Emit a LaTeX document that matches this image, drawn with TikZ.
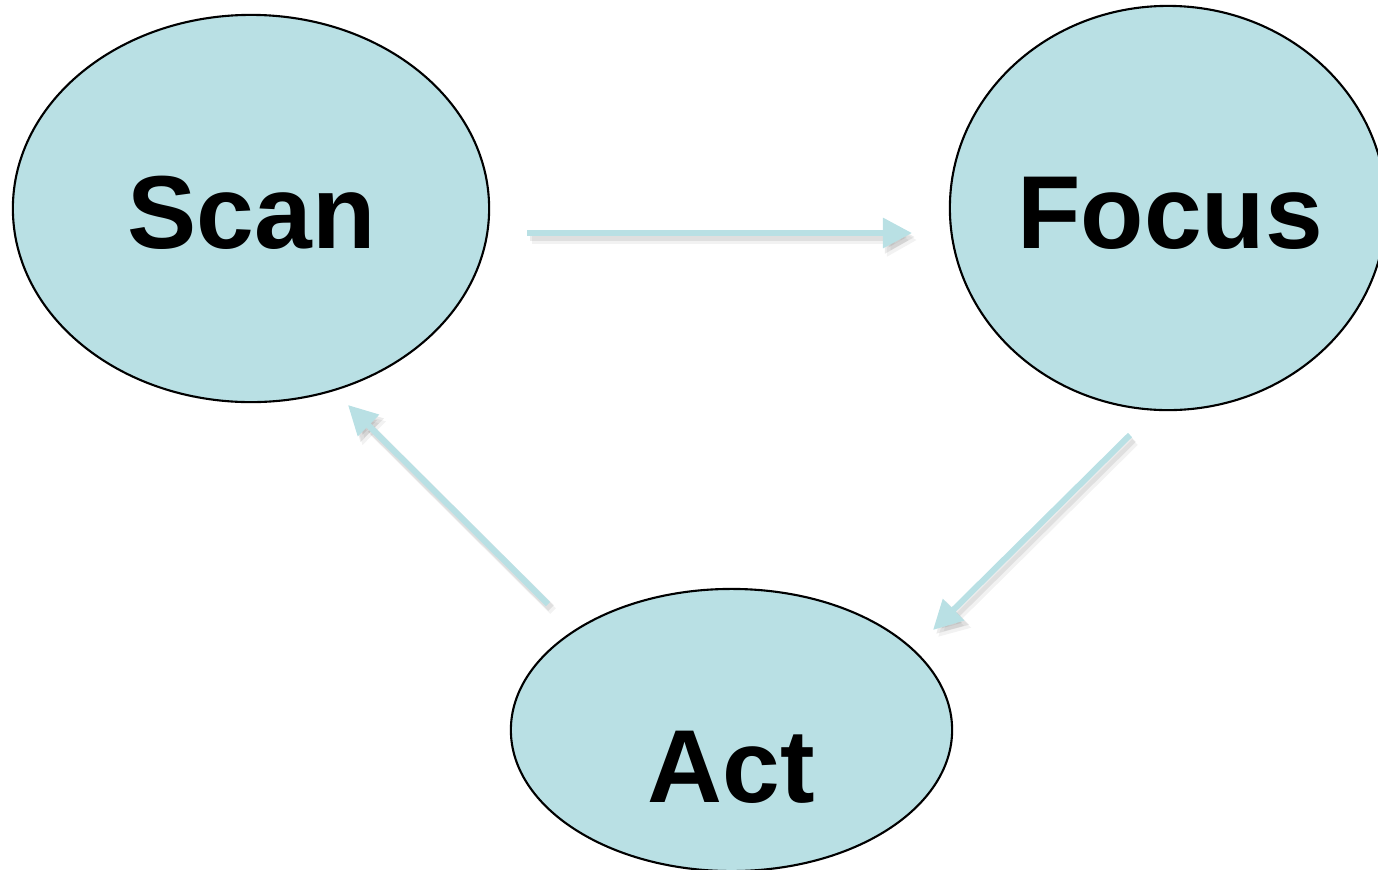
\documentclass[tikz,border=0pt]{standalone}
\usepackage{fontspec}
\setmainfont{Liberation Sans}
\usetikzlibrary{arrows.meta,shapes.geometric}
\definecolor{cyc}{HTML}{B9E0E4}
\tikzset{
  blob/.style={ellipse, draw=black, line width=0.6pt, fill=cyc, inner sep=0pt},
  word/.style={anchor=base, font=\fontsize{29.5pt}{35pt}\selectfont\bfseries, inner sep=0pt},
  flow/.style={draw=cyc, line width=0.06cm, -{Triangle[length=0.29cm,width=0.29cm]}},
  flowshade/.style={draw=black, opacity=#1, line width=0.08cm, -{Triangle[length=0.3cm,width=0.31cm]}},
}
\begin{document}
\begin{tikzpicture}[x=0.01cm,y=-0.01cm]
\useasboundingbox (0,0) rectangle (1378,869);
\node[blob, minimum width=4.76cm, minimum height=3.87cm] (scan) at (251,208.5) {};
\node[blob, minimum width=4.36cm, minimum height=4.04cm] (focus) at (1168,208) {};
\node[blob, minimum width=4.41cm, minimum height=2.82cm] (act) at (731.5,730) {};
\node[word] (scant) at (251.5,248) {Scan};
\node[word] (focust) at (1170,248) {Focus};
\node[word] (actt) at (731,802) {Act};
\coordinate (s1) at (527,233);
\coordinate (e1) at (912,233);
\coordinate (s2) at (1130,435);
\coordinate (e2) at (933,630);
\coordinate (s3) at (548,604);
\coordinate (e3) at (348,405);
\foreach \a/\b in {s1/e1,s2/e2,s3/e3}{
  \draw[flowshade=0.05] ([shift={(5,7)}]\a) -- ([shift={(5,7)}]\b);
  \draw[flowshade=0.08] ([shift={(3,4)}]\a) -- ([shift={(3,4)}]\b);
  \draw[flow] (\a) -- (\b);
}
\end{tikzpicture}
\end{document}
